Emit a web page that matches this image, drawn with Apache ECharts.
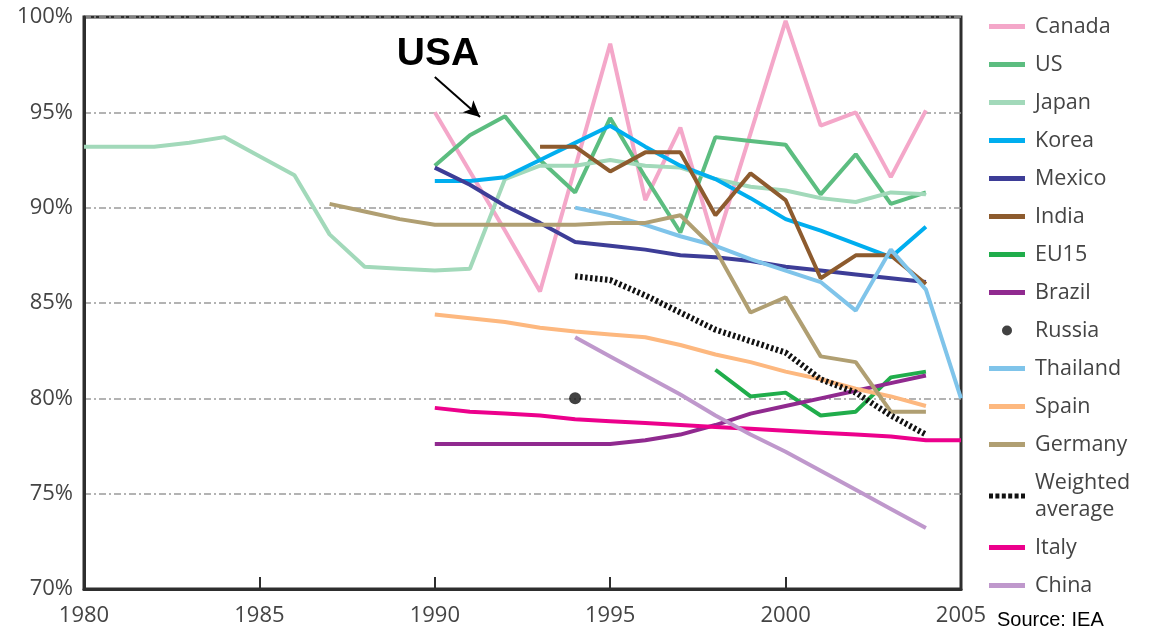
<!DOCTYPE html>
<html>
<head>
<meta charset="utf-8">
<script src="https://cdn.jsdelivr.net/npm/echarts@6/dist/echarts.min.js"></script>
<style>html,body{margin:0;padding:0;background:#fff}#c{width:1151px;height:636px}</style>
</head>
<body>
<div id="c"></div>
<script>
// ---- data (share of value, %) ----
const xTicks = [1980, 1985, 1990, 1995, 2000, 2005];
const yTicks = [70, 75, 80, 85, 90, 95, 100];

const canadaStart = 1990;
const canada = [95.0, 91.9, 88.8, 85.6, 92.1, 98.6, 90.4, 94.2, 88.0, 93.9, 99.8, 94.3, 95.0, 91.6, 95.1];
const usStart = 1990;
const us = [92.2, 93.8, 94.8, 92.5, 90.8, 94.7, 91.6, 88.7, 93.7, 93.5, 93.3, 90.7, 92.8, 90.2, 90.8];
const japanStart = 1980;
const japan = [93.2, 93.2, 93.2, 93.4, 93.7, 92.7, 91.7, 88.6, 86.9, 86.8, 86.7, 86.8, 91.5, 92.2, 92.2, 92.5, 92.2, 92.1, 91.5, 91.1, 90.9, 90.5, 90.3, 90.8, 90.7];
const koreaStart = 1990;
const korea = [91.4, 91.4, 91.6, 92.5, 93.4, 94.3, 93.2, 92.2, 91.5, 90.5, 89.4, 88.8, 88.1, 87.4, 89.0];
const mexicoStart = 1990;
const mexico = [92.1, 91.2, 90.1, 89.2, 88.2, 88.0, 87.8, 87.5, 87.4, 87.2, 86.9, 86.7, 86.5, 86.3, 86.1];
const indiaStart = 1993;
const india = [93.2, 93.2, 91.9, 92.9, 92.9, 89.6, 91.8, 90.4, 86.3, 87.5, 87.5, 86.0];
const eu15Start = 1998;
const eu15 = [81.5, 80.1, 80.3, 79.1, 79.3, 81.1, 81.4];
const brazilStart = 1990;
const brazil = [77.6, 77.6, 77.6, 77.6, 77.6, 77.6, 77.8, 78.1, 78.6, 79.2, 79.6, 80.0, 80.4, 80.8, 81.2];
const russiaStart = 1994;
const russia = [80.0];
const thailandStart = 1994;
const thailand = [90.0, 89.6, 89.1, 88.5, 88.0, 87.3, 86.7, 86.1, 84.6, 87.8, 85.7, 80.0];
const spainStart = 1990;
const spain = [84.4, 84.2, 84.0, 83.7, 83.5, 83.35, 83.2, 82.8, 82.3, 81.9, 81.4, 81.0, 80.5, 80.1, 79.6];
const germanyStart = 1987;
const germany = [90.2, 89.8, 89.4, 89.1, 89.1, 89.1, 89.1, 89.1, 89.2, 89.2, 89.6, 87.8, 84.5, 85.3, 82.2, 81.9, 79.3, 79.3];
const weightedStart = 1994;
const weighted = [86.4, 86.2, 85.4, 84.5, 83.6, 83.0, 82.4, 81.0, 80.3, 79.1, 78.1];
const italyStart = 1990;
const italy = [79.5, 79.3, 79.2, 79.1, 78.9, 78.8, 78.7, 78.6, 78.5, 78.4, 78.3, 78.2, 78.1, 78.0, 77.8, 77.8];
const chinaStart = 1994;
const china = [83.2, 82.2, 81.2, 80.2, 79.1, 78.1, 77.2, 76.2, 75.2, 74.2, 73.2];

// annotation positions (data coordinates)
const usaLabelAt = [1990.09, 98.06];
const usaArrowFrom = [1990.0, 96.85];
const usaArrowTo = [1991.29, 94.76];

function pts(start, vals) { return vals.map((v, i) => [start + i, v]); }

const defs = [
  {name: 'Canada', start: canadaStart, vals: canada, color: '#f4a7c9'},
  {name: 'US', start: usStart, vals: us, color: '#5cbd80'},
  {name: 'Japan', start: japanStart, vals: japan, color: '#a2d9ba'},
  {name: 'Korea', start: koreaStart, vals: korea, color: '#00aeef'},
  {name: 'Mexico', start: mexicoStart, vals: mexico, color: '#3d3d97'},
  {name: 'India', start: indiaStart, vals: india, color: '#8d5b2e'},
  {name: 'EU15', start: eu15Start, vals: eu15, color: '#20ad4b'},
  {name: 'Brazil', start: brazilStart, vals: brazil, color: '#902a8f'},
  {name: 'Russia', start: russiaStart, vals: russia, color: '#111111', scatter: true},
  {name: 'Thailand', start: thailandStart, vals: thailand, color: '#7fc4ea'},
  {name: 'Spain', start: spainStart, vals: spain, color: '#fdb87f'},
  {name: 'Germany', start: germanyStart, vals: germany, color: '#b09f72'},
  {name: 'Weighted average', start: weightedStart, vals: weighted, color: '#111111', dotted: true},
  {name: 'Italy', start: italyStart, vals: italy, color: '#ec008c'},
  {name: 'China', start: chinaStart, vals: china, color: '#bf98cc'}
];

const series = defs.map(d => {
  if (d.scatter) {
    return {name: d.name, type: 'scatter', data: pts(d.start, d.vals), symbol: 'circle', symbolSize: 12,
      itemStyle: {color: d.color}, z: 5};
  }
  const s = {
    name: d.name, type: 'line', data: pts(d.start, d.vals), symbol: 'none', smooth: false,
    lineStyle: {color: d.color, width: d.dotted ? 6 : 4, type: d.dotted ? [2.5, 2.5] : 'solid', cap: 'butt'},
    itemStyle: {color: d.color}, z: d.dotted ? 4 : 3
  };
  if (d.name === 'US') {
    s.markLine = {
      silent: true, symbol: ['none', 'arrow'], symbolSize: [12, 16],
      lineStyle: {color: '#000', width: 2, type: 'solid'}, label: {show: false},
      data: [[{coord: usaArrowFrom}, {coord: usaArrowTo}]]
    };
    s.markPoint = {
      silent: true, symbol: 'circle', symbolSize: 0,
      label: {show: true, formatter: 'USA', color: '#000', fontSize: 39, fontWeight: 'bold',
        fontFamily: 'Liberation Sans, Arial, sans-serif', position: 'inside'},
      data: [{coord: usaLabelAt}]
    };
  }
  return s;
});

const lineIcon = 'path://M0,0H36V5H0Z';
const dotIcon = 'path://M0,0h4v5h-4zM6.4,0h4v5h-4zM12.8,0h4v5h-4zM19.2,0h4v5h-4zM25.6,0h4v5h-4zM32,0h4v5h-4z';
const legendData = defs.map(d => ({
  name: d.name,
  icon: d.scatter ? 'circle' : (d.dotted ? dotIcon : lineIcon),
  itemStyle: {color: d.color, borderWidth: 0}
}));

const chart = echarts.init(document.getElementById('c'), null, {renderer: 'canvas'});
chart.setOption({
  animation: false,
  backgroundColor: '#fff',
  grid: {left: 84, right: 190, top: 17, bottom: 47, show: true, borderColor: '#2e2e2e', borderWidth: 3, backgroundColor: 'transparent'},
  xAxis: {
    type: 'value', min: xTicks[0], max: xTicks[xTicks.length - 1], interval: 5,
    axisLine: {show: true, lineStyle: {color: '#2e2e2e', width: 3}},
    axisTick: {show: true, inside: true, length: 12, lineStyle: {color: '#2e2e2e', width: 2}},
    axisLabel: {color: '#444', fontSize: 22, margin: 16, fontFamily: 'Open Sans, sans-serif', formatter: v => String(v)},
    splitLine: {show: false}
  },
  yAxis: {
    type: 'value', min: yTicks[0], max: yTicks[yTicks.length - 1], interval: 5,
    axisLine: {show: true, lineStyle: {color: '#2e2e2e', width: 3}},
    axisTick: {show: false},
    axisLabel: {color: '#444', fontSize: 22, margin: 11, fontFamily: 'Open Sans, sans-serif', formatter: '{value}%'},
    splitLine: {show: true, lineStyle: {color: '#9a9a9a', width: 1.5, type: [7, 3, 2, 3]}}
  },
  legend: {
    orient: 'vertical', left: 984, top: 8, itemGap: 11, itemWidth: 36, itemHeight: 10,
    data: legendData,
    formatter: n => n === 'Weighted average' ? 'Weighted\naverage' : n,
    textStyle: {color: '#444', fontSize: 21.5, lineHeight: 27, fontFamily: 'Open Sans, sans-serif', padding: [0, 0, 0, 5]},
    selectedMode: false
  },
  graphic: [{
    type: 'text', left: 997, top: 610,
    style: {text: 'Source: IEA', fill: '#000', fontSize: 20, fontFamily: 'Liberation Sans, Arial, sans-serif'}
  }],
  series: series
});
</script>
</body>
</html>
